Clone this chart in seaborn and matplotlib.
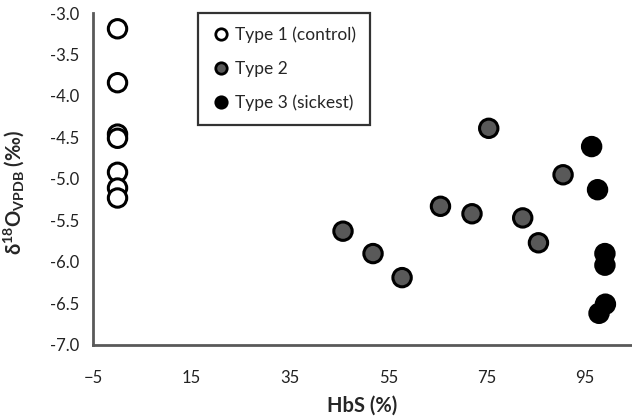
import pandas as pd
import numpy as np
import seaborn as sns
import matplotlib.pyplot as plt

# Data
type1_hbs = [0, 0, 0, 0, 0, 0, 0]
type1_d18o = [-3.19, -3.84, -4.46, -4.51, -4.92, -5.11, -5.23]

type2_hbs = [45.8, 51.9, 57.8, 65.6, 72.0, 75.4, 82.3, 85.5, 90.5]
type2_d18o = [-5.63, -5.90, -6.19, -5.33, -5.42, -4.39, -5.47, -5.77, -4.95]

type3_hbs = [96.3, 97.5, 99.0, 99.0, 99.1, 97.8]
type3_d18o = [-4.61, -5.13, -5.90, -6.04, -6.51, -6.62]

labels = ['Type 1 (control)', 'Type 2', 'Type 3 (sickest)']
colors = ['white', '#595959', 'black']

df = pd.DataFrame({
    'HbS': type1_hbs + type2_hbs + type3_hbs,
    'd18O': type1_d18o + type2_d18o + type3_d18o,
    'Type': [labels[0]] * len(type1_hbs) + [labels[1]] * len(type2_hbs) + [labels[2]] * len(type3_hbs),
})

sns.set_style('white')
plt.rcParams['font.family'] = ['Lato', 'DejaVu Sans']
plt.rcParams['mathtext.fontset'] = 'custom'
plt.rcParams['mathtext.rm'] = 'Lato'
plt.rcParams['mathtext.bf'] = 'Lato:bold'

fig = plt.figure(figsize=(6.32, 4.20), dpi=100)
ax = fig.add_axes([0.147, 0.179, 0.853, 0.790])

sns.scatterplot(data=df, x='HbS', y='d18O', hue='Type', hue_order=labels,
                palette=colors, s=175, edgecolor='black', linewidth=2.2,
                ax=ax, clip_on=False, zorder=3)

ax.set_xlim(-5, 104.5)
ax.set_ylim(-7.0, -3.0)
ax.set_xticks(np.arange(-5, 100, 20))
ax.set_yticks(np.arange(-7.0, -2.9, 0.5))
ax.set_yticklabels([f'{v:.1f}' for v in np.arange(-7.0, -2.9, 0.5)])

grey = '#595959'
for side in ['top', 'right']:
    ax.spines[side].set_visible(False)
for side in ['left', 'bottom']:
    ax.spines[side].set_color(grey)
    ax.spines[side].set_linewidth(2)
ax.tick_params(direction='out', length=5, width=2, color=grey,
               labelsize=12, labelcolor='#222222', pad=5)
ax.tick_params(axis='x', pad=13)

ax.set_xlabel('HbS (%)', fontsize=14.5, fontweight='bold', labelpad=7)
ax.set_ylabel(r'$\mathbf{\delta^{18}O_{VPDB}}$ (‰)', fontsize=14.5, fontweight='bold', labelpad=4)
ax.yaxis.set_label_coords(-0.125, 0.46)

leg = ax.legend(loc='upper left', bbox_to_anchor=(0.195, 1.0), borderaxespad=0,
                frameon=True, fancybox=False, fontsize=12.5, labelspacing=1.0,
                handlelength=1.0, handletextpad=0.35, markerscale=0.62, borderpad=0.8)
leg.get_frame().set_edgecolor('black')
leg.get_frame().set_linewidth(1.6)
for h in leg.legend_handles:
    h.set_markeredgecolor('black')
    h.set_markeredgewidth(2)

fig.savefig('out.png', dpi=100)
